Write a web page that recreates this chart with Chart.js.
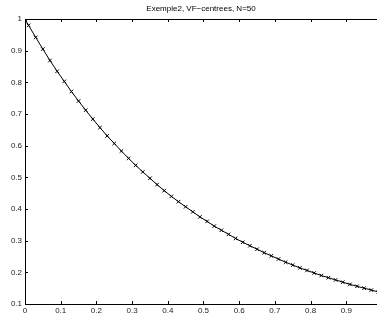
<!DOCTYPE html>
<html><head><meta charset="utf-8">
<script src="https://cdn.jsdelivr.net/npm/chart.js@4/dist/chart.umd.min.js"></script>
<style>html,body{margin:0;padding:0;background:#fff;}#wrap{width:382px;height:318px;position:relative;}</style>
</head><body><div id="wrap"><canvas id="c"></canvas></div>
<script>
const titleText = "Exemple2, VF\u2212centrees, N=50";
const xValues = [0,0.01,0.03,0.05,0.07,0.09,0.11,0.13,0.15,0.17,0.19,0.21,0.23,0.25,0.27,0.29,0.31,0.33,0.35,0.37,0.39,0.41,0.43,0.45,0.47,0.49,0.51,0.53,0.55,0.57,0.59,0.61,0.63,0.65,0.67,0.69,0.71,0.73,0.75,0.77,0.79,0.81,0.83,0.85,0.87,0.89,0.91,0.93,0.95,0.97,0.99,1];
const yValues = [1,0.980,0.942,0.905,0.869,0.835,0.803,0.771,0.741,0.712,0.684,0.657,0.631,0.607,0.583,0.560,0.538,0.517,0.497,0.477,0.458,0.440,0.423,0.407,0.391,0.375,0.361,0.346,0.333,0.320,0.307,0.295,0.284,0.273,0.262,0.252,0.242,0.232,0.223,0.214,0.206,0.198,0.190,0.183,0.176,0.169,0.162,0.156,0.150,0.144,0.138,0.135];
const xTicks = [0,0.1,0.2,0.3,0.4,0.5,0.6,0.7,0.8,0.9];
const xTickLabels = ["0","0.1","0.2","0.3","0.4","0.5","0.6","0.7","0.8","0.9"];
const yTicks = [0.1,0.2,0.3,0.4,0.5,0.6,0.7,0.8,0.9,1];
const yTickLabels = ["0.1","0.2","0.3","0.4","0.5","0.6","0.7","0.8","0.9","1"];

const FONT = "'Liberation Sans', Arial, sans-serif";
const axesPlugin = {
  id: 'axesPlugin',
  afterDatasetsDraw(chart) {
    const ctx = chart.ctx, a = chart.chartArea;
    const xs = chart.scales.x, ys = chart.scales.y;
    ctx.save();
    ctx.strokeStyle = '#000'; ctx.lineWidth = 1;
    ctx.beginPath();
    // left, bottom, top border
    ctx.moveTo(a.left + 0.5, a.top + 0.5); ctx.lineTo(a.left + 0.5, a.bottom + 0.5);
    ctx.lineTo(a.right, a.bottom + 0.5);
    ctx.moveTo(a.left + 0.5, a.top + 0.5); ctx.lineTo(a.right, a.top + 0.5);
    const tl = 3;
    xTicks.forEach(v => {
      const px = Math.round(xs.getPixelForValue(v)) + 0.5;
      ctx.moveTo(px, a.bottom); ctx.lineTo(px, a.bottom - tl);
      ctx.moveTo(px, a.top); ctx.lineTo(px, a.top + tl);
    });
    yTicks.forEach(v => {
      const py = Math.round(ys.getPixelForValue(v)) + 0.5;
      ctx.moveTo(a.left, py); ctx.lineTo(a.left + tl, py);
    });
    ctx.stroke();
    ctx.fillStyle = '#000';
    ctx.font = '8px ' + FONT;
    ctx.textAlign = 'center'; ctx.textBaseline = 'middle';
    ctx.fillText(titleText, 201, 9);
    ctx.restore();
  }
};

new Chart(document.getElementById('c'), {
  type: 'scatter',
  data: { datasets: [{
    data: xValues.map((x, i) => ({x: x, y: yValues[i]})),
    showLine: true,
    borderColor: '#000', borderWidth: 1,
    pointStyle: 'crossRot', pointRadius: 2.5, pointBorderWidth: 1,
    pointBorderColor: '#000', pointBackgroundColor: '#000',
    tension: 0
  }]},
  options: {
    responsive: true, maintainAspectRatio: false, animation: false,
    devicePixelRatio: 1,
    layout: { padding: { top: 19, right: 0, left: 0, bottom: 0 } },
    plugins: { legend: { display: false }, tooltip: { enabled: false }, title: { display: false } },
    scales: {
      x: {
        type: 'linear', min: 0, max: 0.986,
        grid: { display: false, drawTicks: false }, border: { display: false },
        afterBuildTicks: s => { s.ticks = xTicks.map(v => ({value: v})); },
        afterFit: s => { s.height = 14; },
        ticks: { autoSkip: false, maxRotation: 0, padding: 2, color: '#222',
          font: { family: FONT, size: 8 },
          callback: (v) => { const i = xTicks.findIndex(t => Math.abs(t - v) < 1e-9); return i >= 0 ? xTickLabels[i] : ''; } }
      },
      y: {
        type: 'linear', min: 0.1, max: 1,
        grid: { display: false, drawTicks: false }, border: { display: false },
        afterBuildTicks: s => { s.ticks = yTicks.map(v => ({value: v})); },
        afterFit: s => { s.width = 25; },
        ticks: { autoSkip: false, padding: 3, color: '#222',
          font: { family: FONT, size: 8 },
          callback: (v) => { const i = yTicks.findIndex(t => Math.abs(t - v) < 1e-9); return i >= 0 ? yTickLabels[i] : ''; } }
      }
    }
  },
  plugins: [axesPlugin]
});
</script></body></html>
